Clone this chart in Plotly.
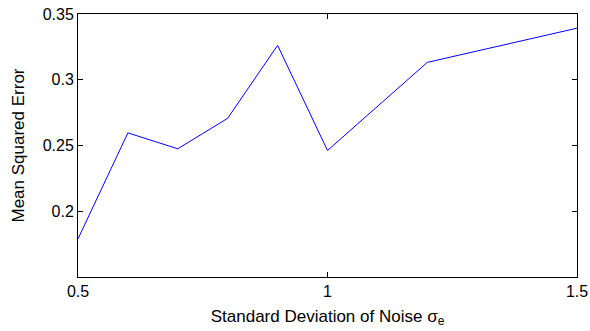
import plotly.graph_objects as go

sigma_e = [0.5, 0.6, 0.7, 0.8, 0.9, 1.0, 1.2, 1.5]
mse = [0.179, 0.2596, 0.2475, 0.2707, 0.3262, 0.2462, 0.3132, 0.3392]

x_ticks = [0.5, 1, 1.5]
x_ticktext = ["0.5", "1", "1.5"]
y_ticks = [0.2, 0.25, 0.3, 0.35]
y_ticktext = ["0.2", "0.25", "0.3", "0.35"]

fig = go.Figure()
fig.add_trace(go.Scatter(x=sigma_e, y=mse, mode="lines",
                         line=dict(color="#0000ff", width=1), showlegend=False))

font = dict(family="Liberation Sans, Arial, sans-serif", size=16, color="black")
title_font = dict(family="Liberation Sans, Arial, sans-serif", size=17, color="black")
axis_common = dict(showgrid=False, zeroline=False, showline=True, linecolor="black",
                   linewidth=1, mirror="allticks", ticks="inside", ticklen=5,
                   tickcolor="black", tickwidth=1, tickfont=font, automargin=False)

fig.update_layout(
    width=590, height=331,
    margin=dict(l=78, r=13, t=14, b=54),
    paper_bgcolor="white", plot_bgcolor="white",
    font=font,
    xaxis=dict(range=[0.5, 1.5], tickvals=x_ticks, ticktext=x_ticktext,
               title=dict(text="Standard Deviation of Noise σ<sub>e</sub>",
                          font=title_font, standoff=10),
               **axis_common),
    yaxis=dict(range=[0.15, 0.35], tickvals=y_ticks, ticktext=y_ticktext,
               title=dict(text="Mean Squared Error", font=title_font, standoff=13),
               **axis_common),
)

fig.write_html("out.html")
